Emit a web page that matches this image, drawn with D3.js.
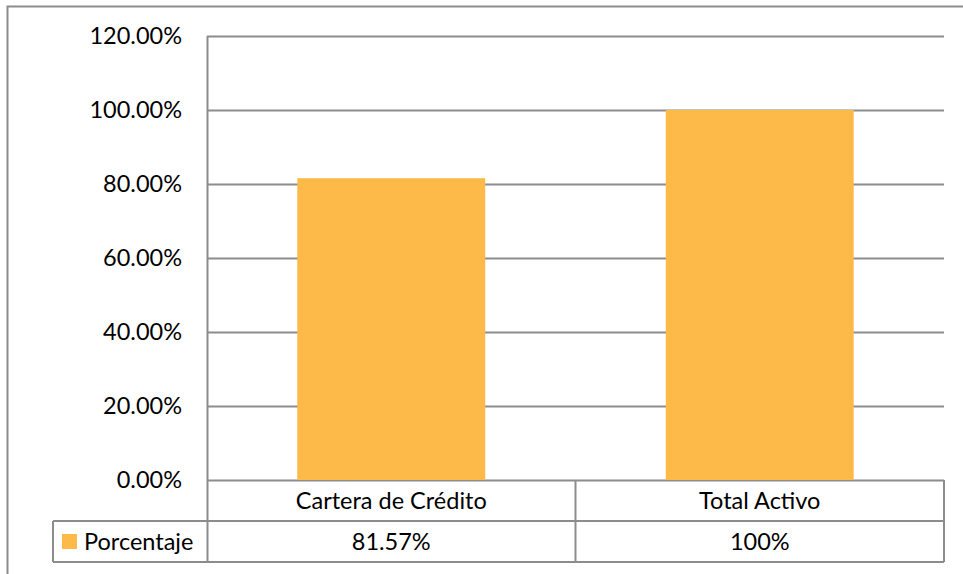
<!DOCTYPE html>
<html>
<head>
<meta charset="utf-8">
<script src="https://cdn.jsdelivr.net/npm/d3@7"></script>
<style>
  html, body { margin: 0; padding: 0; background: #fff; }
  svg { display: block; }
  text { font-family: Lato, "Open Sans", sans-serif; fill: #000; }
</style>
</head>
<body>
<svg id="chart" width="963" height="574"></svg>
<script>
// Chart data
const categories = ["Cartera de Crédito", "Total Activo"];
const values = [0.8157, 1.00];
const valueLabels = ["81.57%", "100%"];
const seriesName = "Porcentaje";
const yTicks = [0, 0.2, 0.4, 0.6, 0.8, 1.0, 1.2];

const W = 963, H = 574;
const plot = { left: 207, right: 944, top: 36, bottom: 480 };
const rowH = 41;
const legendLeft = 53;
const gridColor = "#8c8c8c";
const barColor = "#FDBA48";
const fontSize = 23.5;

const svg = d3.select("#chart");

// Outer frame (only left and top edges fall inside the canvas)
svg.append("path")
  .attr("d", `M7.5,${H} L7.5,6.5 L${W},6.5`)
  .attr("fill", "none").attr("stroke", gridColor).attr("stroke-width", 2);

const x = d3.scaleBand().domain(categories).range([plot.left, plot.right]).paddingInner(0.49).paddingOuter(0.245);
const y = d3.scaleLinear().domain([0, 1.2]).range([plot.bottom, plot.top]);

// Horizontal gridlines
svg.append("g").selectAll("line").data(yTicks).join("line")
  .attr("x1", plot.left).attr("x2", plot.right)
  .attr("y1", d => Math.round(y(d)) + 0.5).attr("y2", d => Math.round(y(d)) + 0.5)
  .attr("stroke", gridColor).attr("stroke-width", 2);

// Bars
svg.append("g").selectAll("rect").data(categories).join("rect")
  .attr("x", d => x(d))
  .attr("width", x.bandwidth())
  .attr("y", (d, i) => y(values[i]))
  .attr("height", (d, i) => plot.bottom - y(values[i]))
  .attr("fill", barColor);

// Y axis labels
const fmt = d3.format(".2%");
svg.append("g").selectAll("text").data(yTicks).join("text")
  .attr("x", 182).attr("y", d => y(d))
  .attr("dy", "0.35em")
  .attr("text-anchor", "end")
  .attr("font-size", fontSize)
  .text(d => fmt(d));

// Data table beneath the plot
const colEdges = [plot.left, (plot.left + plot.right) / 2, plot.right];
const t = svg.append("g").attr("fill", "none").attr("stroke", gridColor).attr("stroke-width", 2);
// vertical axis line down through the table
t.append("line").attr("x1", plot.left + 0.5).attr("x2", plot.left + 0.5).attr("y1", plot.top).attr("y2", plot.bottom + 2 * rowH);
// column separators and right edge
[colEdges[1], colEdges[2]].forEach(cx => {
  t.append("line").attr("x1", cx).attr("x2", cx).attr("y1", plot.bottom).attr("y2", plot.bottom + 2 * rowH);
});
// row lines
t.append("line").attr("x1", plot.left).attr("x2", plot.right).attr("y1", plot.bottom + rowH).attr("y2", plot.bottom + rowH);
t.append("line").attr("x1", legendLeft).attr("x2", plot.left).attr("y1", plot.bottom + rowH).attr("y2", plot.bottom + rowH);
t.append("line").attr("x1", legendLeft).attr("x2", plot.right).attr("y1", plot.bottom + 2 * rowH).attr("y2", plot.bottom + 2 * rowH);
t.append("line").attr("x1", legendLeft).attr("x2", legendLeft).attr("y1", plot.bottom + rowH).attr("y2", plot.bottom + 2 * rowH);

// Category names
svg.append("g").selectAll("text").data(categories).join("text")
  .attr("x", (d, i) => (colEdges[i] + colEdges[i + 1]) / 2)
  .attr("y", plot.bottom + rowH / 2)
  .attr("dy", "0.35em").attr("text-anchor", "middle").attr("font-size", fontSize)
  .text(d => d);

// Values row
svg.append("g").selectAll("text").data(valueLabels).join("text")
  .attr("x", (d, i) => (colEdges[i] + colEdges[i + 1]) / 2)
  .attr("y", plot.bottom + rowH * 1.5)
  .attr("dy", "0.35em").attr("text-anchor", "middle").attr("font-size", fontSize)
  .text(d => d);

// Legend key in table row
svg.append("rect").attr("x", 62).attr("y", plot.bottom + rowH * 1.5 - 7.5).attr("width", 15).attr("height", 15).attr("fill", barColor);
svg.append("text").attr("x", 84).attr("y", plot.bottom + rowH * 1.5).attr("dy", "0.35em").attr("font-size", fontSize).text(seriesName);
</script>
</body>
</html>
